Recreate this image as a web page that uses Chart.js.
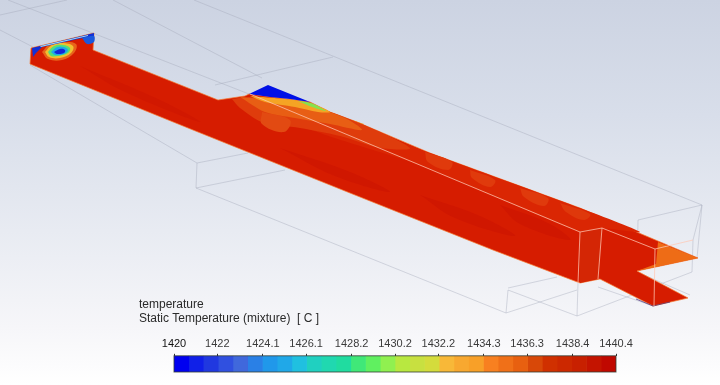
<!DOCTYPE html>
<html>
<head>
<meta charset="utf-8">
<title>Static Temperature contour</title>
<script src="https://cdn.jsdelivr.net/npm/chart.js@4/dist/chart.umd.js"></script>
<style>
    html, body { margin: 0; padding: 0; }
    body {
        width: 720px; height: 385px; overflow: hidden; position: relative;
        background: linear-gradient(180deg, #ccd3e2 0%, #d8deea 30%, #e8ebf2 60%, #f6f6f9 85%, #ffffff 100%);
    }
    canvas { position: absolute; }
    #scene { left: 0; top: 0; filter: blur(0.7px); }
    #legend { left: 139px; top: 295px; }
</style>
</head>
<body>
<canvas id="scene" width="720" height="385"></canvas>
<canvas id="legend" width="581" height="85"></canvas>
<script>
// ============================================================
// Colorbar data
// ============================================================

const legendTitle = ['temperature', 'Static Temperature (mixture)  [ C ]'];
const tickValues = [1420, 1422, 1424.1, 1426.1, 1428.2, 1430.2, 1432.2, 1434.3, 1436.3, 1438.4, 1440.4];
const bandEdges = [1420, 1420.68, 1421.36, 1422.04, 1422.72, 1423.4, 1424.08, 1424.76, 1425.44, 1426.12,
    1426.8, 1427.48, 1428.16, 1428.84, 1429.52, 1430.2, 1430.88, 1431.56, 1432.24, 1432.92,
    1433.6, 1434.28, 1434.96, 1435.64, 1436.32, 1437, 1437.68, 1438.36, 1439.04, 1439.72, 1440.4];
const bandColors = ['#0000f0', '#1020e8', '#2038e0', '#3050e0', '#4068dc', '#2a80e6', '#2098ea', '#20a8e8',
    '#20c0e0', '#20d0c0', '#20d8b0', '#20dca0', '#40e878', '#60f060', '#90f050', '#b8e840',
    '#c8e040', '#d4dc3c', '#f8b838', '#f8a830', '#f8a028', '#f88020', '#f07018', '#e86010',
    '#d84808', '#d03000', '#cc2800', '#c82000', '#c41400', '#c00800'];

// ============================================================
// Scene data: outlines in image coordinates
// ============================================================

const floorOutline = [[31, 48], [30, 64], [193, 130], [350, 193], [493, 250], [580, 283], [600, 279], [653, 306],
    [688, 298], [637, 271], [698, 258], [580, 208], [430, 153], [357, 122], [330, 112], [310, 102],
    [249, 94], [245, 96], [218, 100], [93, 50], [94, 33]];
const blueWedge = [[249, 94], [268, 85], [310, 102], [290, 99], [270, 97]];
const upperBand = [[300, 103], [430, 153], [580, 208], [640, 232], [600, 228], [580, 232], [420, 165], [300, 125]];
const orangeShelf = [[232, 99], [250, 97], [300, 103], [357, 122], [410, 148], [380, 148], [340, 136], [300, 128], [262, 122], [240, 108]];
const midShelf = [[240, 97], [300, 103], [345, 118], [362, 130], [330, 124], [295, 118], [265, 112]];
const yellowShelf = [[250, 96], [285, 99], [310, 103], [330, 112], [318, 112], [295, 107], [265, 102]];
const greenShelf = [[298, 101], [311, 103], [326, 111], [312, 107]];
const fleck1 = [[352, 120], [364, 124], [358, 126]];
const mottle1 = [[368, 130], [392, 140], [386, 146], [372, 140]];
const mottle2 = [[425, 152], [452, 162], [448, 170], [428, 162]];
const mottle3 = [[470, 170], [495, 180], [490, 187], [472, 178]];
const mottle4 = [[520, 188], [548, 198], [544, 206], [524, 197]];
const mottle5 = [[560, 203], [590, 214], [584, 220], [566, 212]];
const mottle6 = [[262, 112], [290, 120], [284, 132], [262, 124]];
const darkStreak1 = [[280, 148], [350, 172], [390, 192], [335, 176]];
const darkStreak2 = [[420, 195], [480, 216], [515, 236], [455, 218]];
const darkStreak3 = [[80, 66], [160, 100], [200, 122], [125, 92]];
const darkStreak4 = [[500, 205], [550, 224], [570, 240], [520, 224]];
const sideWall = [[580, 232], [602, 228], [598, 279], [580, 283]];
const upperTip = [[658, 242], [698, 258], [637, 271], [656, 264]];
const inletBlueStrip = [[32, 48], [94, 33], [94, 36], [78, 39], [60, 43], [42, 47], [36, 53], [33, 57]];
const inletCyanStrip = [[40, 46], [88, 35], [88, 36], [41, 47]];
const inletRightBlob = [[82, 38], [94, 36], [94, 42], [87, 44]];
const plumeOrange = [[42, 52], [50, 44], [62, 42], [76, 44], [74, 53], [62, 60], [48, 59]];
const plumeOuter = [[45, 52], [52, 45], [62, 43], [73, 46], [71, 53], [60, 58], [49, 57]];
const plumeGreen = [[48, 52], [54, 46], [63, 45], [70, 48], [68, 53], [58, 56], [51, 56]];
const plumeCyan = [[51, 52], [57, 47], [64, 47], [68, 50], [64, 54], [55, 55]];
const plumeBlue = [[54, 52], [60, 49], [65, 50], [64, 53], [57, 54]];
const stripEdge = [[636, 299], [653, 306], [670, 302]];

// Wireframe, drawn under the contour
const wireTopLong = [[194, 0], [702, 205]];
const wireTopMid = [[113, 0], [262, 78]];
const wireTopLeft = [[8, 0], [249, 94]];
const wireCornerA = [[0, 15], [67, 0]];
const wireCornerB = [[0, 30], [33, 47]];
const wireBoxTop = [[215, 85], [333, 57]];
const wireBottomDiag = [[30, 65], [197, 163], [248, 153]];
const wireBottomPost = [[197, 163], [196, 188], [285, 170]];
const wireBottomLong = [[196, 188], [506, 313], [508, 290], [577, 316], [578, 283]];
const wireOutletA = [[506, 313], [577, 290]];
const wireOutletB = [[508, 288], [557, 277]];
const wireOutletC = [[577, 316], [692, 272], [693, 240], [702, 205], [638, 220], [637, 272], [690, 295]];
const wireOutletD = [[702, 205], [697, 258]];
const wireOutletE = [[598, 287], [653, 306]];

// Wireframe, drawn over the contour
const edgeLong = [[250, 94], [580, 232], [602, 228], [655, 249], [693, 240]];
const edgePostA = [[580, 232], [578, 283]];
const edgePostB = [[602, 228], [598, 279]];
const edgePostC = [[655, 249], [654, 306]];

// ============================================================
// Dataset helpers
// ============================================================

function toPoints(list) {
    return list.map(function(p) { return { x: p[0], y: p[1] }; });
}

function shape(list, color, tension, edge) {
    return {
        data: toPoints(list.concat([list[0]])),
        showLine: true,
        pointRadius: 0,
        fill: 'shape',
        tension: tension || 0,
        backgroundColor: color,
        borderColor: edge || color,
        borderWidth: edge ? 1 : 0
    };
}

function wire(list, color, width) {
    return {
        data: toPoints(list),
        showLine: true,
        pointRadius: 0,
        fill: false,
        borderColor: color,
        borderWidth: width || 1
    };
}

const WIRE = 'rgba(165, 170, 185, 0.42)';
const EDGE = 'rgba(255, 200, 180, 0.75)';

// Listed back to front
const sceneLayers = [
    wire(wireTopLong, WIRE), wire(wireTopMid, WIRE), wire(wireTopLeft, WIRE), wire(wireCornerA, WIRE),
    wire(wireCornerB, WIRE), wire(wireBoxTop, WIRE), wire(wireBottomDiag, WIRE), wire(wireBottomPost, WIRE),
    wire(wireBottomLong, WIRE), wire(wireOutletA, WIRE), wire(wireOutletB, WIRE), wire(wireOutletC, WIRE),
    wire(wireOutletD, WIRE), wire(wireOutletE, WIRE),
    shape(floorOutline, '#d61c00', 0, 'rgba(245, 120, 45, 0.7)'),
    shape(darkStreak1, '#d01700', 0.4), shape(darkStreak2, '#d01700', 0.4), shape(darkStreak3, '#d11800', 0.4), shape(darkStreak4, '#d01700', 0.4),
    shape(upperBand, '#da2603', 0.2),
    shape(sideWall, '#d42605'),
    shape(mottle1, '#e03a0c', 0.4), shape(mottle2, '#e03a0c', 0.4), shape(mottle3, '#e03a0c', 0.4),
    shape(mottle4, '#e03a0c', 0.4), shape(mottle5, '#df380b', 0.4), shape(fleck1, '#f0a030'),
    shape(orangeShelf, '#df3c0c', 0.3), shape(mottle6, '#e24a12', 0.4), shape(midShelf, '#e85e14', 0.3),
    shape(yellowShelf, '#f5a424', 0.3), shape(greenShelf, '#86e24e', 0.3),
    shape(blueWedge, '#0010e6'),
    shape(upperTip, '#ee6c16'),
    wire(stripEdge, 'rgba(70, 40, 120, 0.7)'),
    shape(plumeOrange, '#e8641a', 0.4), shape(plumeOuter, '#f0c030', 0.4), shape(plumeGreen, '#4fe07a', 0.4),
    shape(plumeCyan, '#1fa8e8', 0.4), shape(plumeBlue, '#1028d8', 0.4),
    shape(inletBlueStrip, '#1030d8'), shape(inletCyanStrip, '#a0d8f0'), shape(inletRightBlob, '#1a58dc', 0.3),
    wire(edgeLong, EDGE), wire(edgePostA, EDGE), wire(edgePostB, EDGE), wire(edgePostC, EDGE)
];

// ============================================================
// Charts
// ============================================================

new Chart(document.getElementById('scene'), {
    type: 'scatter',
    data: { datasets: sceneLayers.slice().reverse() },
    options: {
        responsive: false,
        animation: false,
        plugins: { legend: { display: false }, tooltip: { enabled: false }, title: { display: false } },
        scales: {
            x: { type: 'linear', min: 0, max: 720, display: false },
            y: { type: 'linear', min: 0, max: 385, reverse: true, display: false }
        }
    }
});

const barOutline = {
    id: 'barOutline',
    afterDatasetsDraw: function(chart) {
        const a = chart.chartArea;
        chart.ctx.save();
        chart.ctx.strokeStyle = 'rgba(50, 60, 50, 0.8)';
        chart.ctx.lineWidth = 1;
        chart.ctx.strokeRect(a.left, a.top, a.right - a.left, a.bottom - a.top);
        chart.ctx.restore();
    }
};

new Chart(document.getElementById('legend'), {
    type: 'bar',
    data: {
        labels: [''],
        datasets: bandColors.map(function(color, i) {
            return {
                data: [[bandEdges[i], bandEdges[i + 1]]],
                backgroundColor: color,
                barPercentage: 1,
                categoryPercentage: 1
            };
        })
    },
    plugins: [barOutline],
    options: {
        indexAxis: 'y',
        responsive: false,
        animation: false,
        layout: { padding: { right: 104, bottom: 8, left: 0, top: 0 } },
        plugins: {
            legend: { display: false },
            tooltip: { enabled: false },
            title: {
                display: true,
                text: legendTitle,
                align: 'start',
                color: '#2a2a2a',
                font: { family: 'Liberation Sans', size: 12, weight: 'normal', lineHeight: 1.2 },
                padding: { top: 2, bottom: 0 }
            }
        },
        scales: {
            x: {
                type: 'linear',
                position: 'top',
                min: 1420,
                max: 1440.4,
                afterBuildTicks: function(scale) {
                    scale.ticks = tickValues.map(function(v) { return { value: v }; });
                },
                afterFit: function(scale) { scale.height = 30; },
                ticks: {
                    autoSkip: false,
                    maxRotation: 0,
                    color: function(ctx) { return ctx.index === 0 ? '#111' : '#3a3a3a'; },
                    font: { family: 'Liberation Sans', size: 11 },
                    padding: 3,
                    callback: function(value) { return String(value); }
                },
                grid: { drawOnChartArea: false, tickLength: 2, color: '#333' },
                border: { display: false }
            },
            y: {
                stacked: true,
                afterFit: function(scale) { scale.width = 35; },
                ticks: { display: false },
                grid: { display: false },
                border: { display: false }
            }
        }
    }
});
</script>
</body>
</html>
